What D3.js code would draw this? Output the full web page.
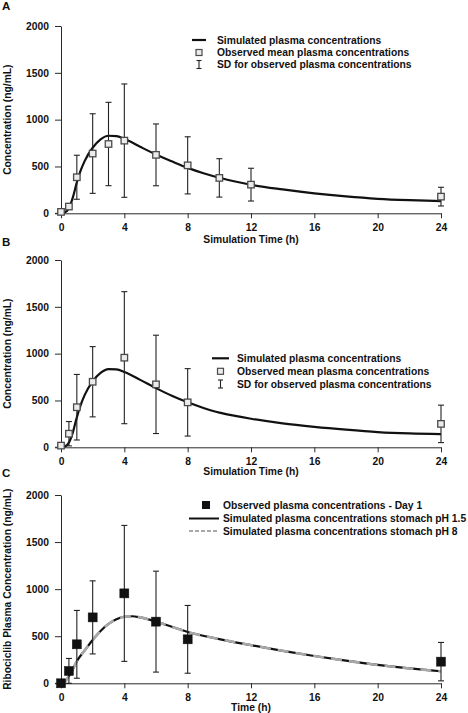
<!DOCTYPE html>
<html>
<head>
<meta charset="utf-8">
<script src="https://cdn.jsdelivr.net/npm/d3@7"></script>
<style>
  html, body { margin: 0; padding: 0; background: #fff; }
  svg { display: block; }
  text { font-family: "Liberation Sans", Arial, Helvetica, sans-serif; font-weight: bold; fill: #111; }
</style>
</head>
<body>
<svg id="chart" width="468" height="713"></svg>
<script>
// ---- data ----
const xTicks = [0, 4, 8, 12, 16, 20, 24];
const yTicks = [0, 500, 1000, 1500, 2000];

// Panel A
const obsTimeA = [0, 0.5, 1, 2, 3, 4, 6, 8, 10, 12, 24];
const obsMeanA = [15, 72, 385, 638, 740, 776, 624, 512, 378, 306, 178];
const obsSdA   = [10, 30, 235, 425, 445, 605, 330, 305, 205, 175, 100];
const simTimeA = [0, 0.25, 0.5, 0.75, 1, 1.25, 1.5, 2, 2.5, 3, 3.5, 4, 5, 6, 7, 8, 9, 10, 11, 12, 14, 16, 18, 20, 22, 24];
const simConcA = [0, 10, 55, 170, 330, 460, 560, 700, 790, 828, 825, 795, 710, 628, 555, 485, 428, 380, 340, 305, 255, 213, 180, 155, 140, 130];

// Panel B
const obsTimeB = [0, 0.5, 1, 2, 4, 6, 8, 24];
const obsMeanB = [18, 145, 428, 700, 957, 672, 480, 250];
const obsSdB   = [10, 130, 350, 375, 705, 525, 360, 200];
const simTimeB = [0, 0.25, 0.5, 0.75, 1, 1.25, 1.5, 2, 2.5, 3, 3.5, 4, 5, 6, 7, 8, 9, 10, 11, 12, 14, 16, 18, 20, 22, 24];
const simConcB = [0, 8, 50, 160, 320, 455, 560, 705, 795, 835, 832, 805, 720, 632, 550, 480, 420, 370, 335, 305, 255, 218, 188, 163, 148, 140];

// Panel C
const obsTimeC = [0, 0.5, 1, 2, 4, 6, 8, 24];
const obsMeanC = [0, 131, 414, 700, 955, 655, 467, 230];
const obsSdC   = [0, 133, 360, 388, 722, 536, 360, 204];
const simTimeC = [0, 0.25, 0.5, 0.75, 1, 1.5, 2, 2.5, 3, 3.5, 4, 4.5, 5, 6, 7, 8, 10, 12, 14, 16, 18, 20, 22, 24];
const simConcC_pH15 = [0, 20, 75, 150, 235, 350, 460, 555, 630, 680, 707, 712, 700, 655, 600, 545, 470, 405, 345, 290, 240, 195, 158, 128];
const simConcC_pH8  = [0, 20, 75, 150, 235, 350, 460, 555, 630, 680, 707, 712, 700, 655, 600, 545, 470, 405, 345, 290, 240, 195, 158, 128];

const legendA = ["Simulated plasma concentrations", "Observed mean plasma concentrations", "SD for observed plasma concentrations"];
const legendC = ["Observed plasma concentrations - Day 1", "Simulated plasma concentrations stomach pH 1.5", "Simulated plasma concentrations stomach pH 8"];

// ---- drawing ----
const FS = 10.3;
const svg = d3.select("#chart");
const x = d3.scaleLinear().domain([0, 24]).range([61, 441]);

const panels = [
  { label: "A", top: 26, bottom: 213.3, labelY: 10, ytitle: "Concentration (ng/mL)", xtitle: "Simulation Time (h)", xtitleY: 243,
    t: obsTimeA, m: obsMeanA, sd: obsSdA, simT: simTimeA, sims: [simConcA], filled: false,
    legend: { lineX: [192, 206], symX: 199, textX: 217, rows: [40, 52.5, 64.5], items: legendA, type: "AB" } },
  { label: "B", top: 260, bottom: 447.3, labelY: 246, ytitle: "Concentration (ng/mL)", xtitle: "Simulation Time (h)", xtitleY: 475,
    t: obsTimeB, m: obsMeanB, sd: obsSdB, simT: simTimeB, sims: [simConcB], filled: false,
    legend: { lineX: [212, 229], symX: 220.5, textX: 237, rows: [358.3, 371.3, 384], items: legendA, type: "AB" } },
  { label: "C", top: 495, bottom: 683.3, labelY: 477, ytitle: "Ribociclib Plasma Concentration (ng/mL)", xtitle: "Time (h)", xtitleY: 711,
    t: obsTimeC, m: obsMeanC, sd: obsSdC, simT: simTimeC, sims: [simConcC_pH15, simConcC_pH8], filled: true,
    legend: { lineX: [189, 219], symX: 206, textX: 223, rows: [505, 518.5, 531], items: legendC, type: "C" } }
];

panels.forEach(p => {
  const g = svg.append("g");
  const y = d3.scaleLinear().domain([0, 2000]).range([p.bottom, p.top]);

  // panel letter
  g.append("text").attr("x", 2).attr("y", p.labelY).attr("font-size", 11.5).text(p.label);

  // axes
  const xAxis = d3.axisBottom(x).tickValues(xTicks).tickFormat(d3.format("d")).tickSize(5).tickSizeOuter(0).tickPadding(5);
  const yAxis = d3.axisLeft(y).tickValues(yTicks).tickFormat(d3.format("d")).tickSize(6).tickSizeOuter(0).tickPadding(6);
  const gx = g.append("g").attr("transform", `translate(0,${p.bottom})`).call(xAxis);
  const gy = g.append("g").attr("transform", `translate(${x(0)},0)`).call(yAxis);
  [gx, gy].forEach(a => {
    a.selectAll("path, line").attr("stroke", "#2a2a2a").attr("stroke-width", 1);
    a.selectAll("text").attr("font-size", FS).attr("font-family", '"Liberation Sans", Arial, sans-serif').attr("font-weight", "bold").attr("fill", "#111");
  });
  // x axis line joins the 0 tick on the left
  g.append("line").attr("x1", x(0) - 6).attr("x2", x(0)).attr("y1", p.bottom).attr("y2", p.bottom).attr("stroke", "#2a2a2a");

  // axis titles
  g.append("text").attr("x", (x(0) + x(24)) / 2).attr("y", p.xtitleY).attr("text-anchor", "middle").attr("font-size", FS).text(p.xtitle);
  g.append("text").attr("transform", `translate(11,${(p.top + p.bottom) / 2}) rotate(-90)`)
    .attr("text-anchor", "middle").attr("font-size", FS).text(p.ytitle);

  // simulated curves
  const line = d3.line().x((d, i) => x(p.simT[i])).y(d => y(d)).curve(d3.curveMonotoneX);
  p.sims.forEach((s, k) => {
    g.append("path").datum(s).attr("d", line).attr("fill", "none")
      .attr("stroke", k === 0 ? "#111" : "#a8a8a8")
      .attr("stroke-width", k === 0 ? 2.2 : 2.6)
      .attr("stroke-dasharray", k === 0 ? null : "11,7");
  });

  // error bars
  const eb = g.append("g").attr("stroke", "#222").attr("stroke-width", 1.1);
  p.t.forEach((t, i) => {
    if (p.sd[i] <= 0) return;
    const cx = x(t), y1 = y(p.m[i] + p.sd[i]), y0 = y(Math.max(0, p.m[i] - p.sd[i]));
    eb.append("line").attr("x1", cx).attr("x2", cx).attr("y1", y1).attr("y2", y0);
    eb.append("line").attr("x1", cx - 3).attr("x2", cx + 3).attr("y1", y1).attr("y2", y1);
    eb.append("line").attr("x1", cx - 3).attr("x2", cx + 3).attr("y1", y0).attr("y2", y0);
  });

  // observed squares
  const s = p.filled ? 9 : 6.5;
  g.append("g").selectAll("rect").data(p.m).join("rect")
    .attr("x", (d, i) => x(p.t[i]) - s / 2).attr("y", d => y(d) - s / 2)
    .attr("width", s).attr("height", s)
    .attr("fill", p.filled ? "#111" : "#ececec")
    .attr("stroke", p.filled ? "#111" : "#4a4a4a").attr("stroke-width", p.filled ? 0.5 : 1.3);

  // legend
  const L = p.legend;
  const lg = g.append("g");
  L.items.forEach((txt, i) => {
    lg.append("text").attr("x", L.textX).attr("y", L.rows[i]).attr("dy", "0.35em").attr("font-size", FS).text(txt);
  });
  if (L.type === "AB") {
    lg.append("line").attr("x1", L.lineX[0]).attr("x2", L.lineX[1]).attr("y1", L.rows[0]).attr("y2", L.rows[0])
      .attr("stroke", "#111").attr("stroke-width", 2.2);
    lg.append("rect").attr("x", L.symX - 3).attr("y", L.rows[1] - 3).attr("width", 6).attr("height", 6)
      .attr("fill", "#ececec").attr("stroke", "#4a4a4a").attr("stroke-width", 1.2);
    const r = L.rows[2];
    lg.append("line").attr("x1", L.symX).attr("x2", L.symX).attr("y1", r - 4).attr("y2", r + 4).attr("stroke", "#222").attr("stroke-width", 1.1);
    lg.append("line").attr("x1", L.symX - 2.5).attr("x2", L.symX + 2.5).attr("y1", r - 4).attr("y2", r - 4).attr("stroke", "#222").attr("stroke-width", 1.1);
    lg.append("line").attr("x1", L.symX - 2.5).attr("x2", L.symX + 2.5).attr("y1", r + 4).attr("y2", r + 4).attr("stroke", "#222").attr("stroke-width", 1.1);
  } else {
    lg.append("rect").attr("x", L.symX - 4).attr("y", L.rows[0] - 4).attr("width", 8).attr("height", 8).attr("fill", "#111");
    lg.append("line").attr("x1", L.lineX[0]).attr("x2", L.lineX[1]).attr("y1", L.rows[1]).attr("y2", L.rows[1])
      .attr("stroke", "#111").attr("stroke-width", 2);
    lg.append("line").attr("x1", L.lineX[0]).attr("x2", L.lineX[1]).attr("y1", L.rows[2]).attr("y2", L.rows[2])
      .attr("stroke", "#a8a8a8").attr("stroke-width", 2).attr("stroke-dasharray", "4,2");
  }
});
</script>
</body>
</html>
